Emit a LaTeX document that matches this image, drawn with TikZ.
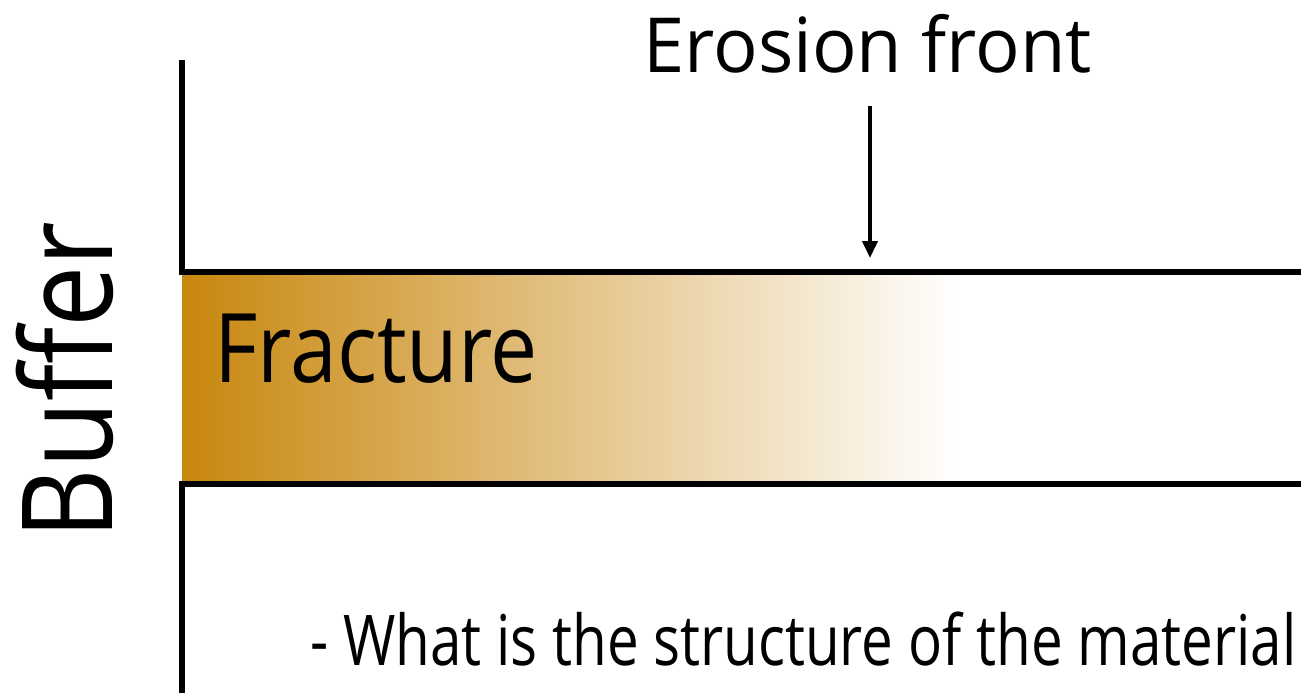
\documentclass[tikz,border=0pt]{standalone}
\usepackage{fontspec}
\setmainfont{Open Sans}
\usepackage{xcolor}
\usepackage{tikz}
\usetikzlibrary{arrows.meta,positioning}
\definecolor{ochre}{HTML}{C8870E}

% horizontally narrowed text
\newcommand{\narrowtext}[2]{\scalebox{#1}[1]{#2}}

\tikzset{
  wall/.style={line width=3pt,black},
  lbl/.style={inner sep=0pt,text=black}
}

\begin{document}
\begin{tikzpicture}[x=0.5pt,y=-0.5pt]
\useasboundingbox (0,0) rectangle (1301,693);
% fracture band
\shade[left color=ochre,right color=white] (182,272) rectangle (960,484);
\draw[wall] (182,60) -- (182,272) -- (1301,272);
\draw[wall] (182,693) -- (182,484) -- (1301,484);
\coordinate (tip) at (870,258);
\node[lbl,anchor=base west,font=\fontsize{38}{40}\selectfont] (erosion) at (643,72) {\narrowtext{0.975}{Erosion front}};
\draw[-{Triangle[length=8.5pt,width=7.5pt]},line width=2pt] ([yshift=-16.5pt]erosion.south -| tip) -- (tip);
\node[lbl,anchor=base west,font=\fontsize{48}{50}\selectfont] (fracture) at (214,382) {\narrowtext{0.875}{Fracture}};
\node[lbl,anchor=base west,rotate=90,font=\fontsize{63}{65}\selectfont] (buffer) at (112,540) {\narrowtext{0.867}{Buffer}};
\node[lbl,anchor=base west,font=\fontsize{35}{37}\selectfont] (question) at (310,665) {\narrowtext{0.808}{- What is the structure of the material}};
\end{tikzpicture}
\end{document}
